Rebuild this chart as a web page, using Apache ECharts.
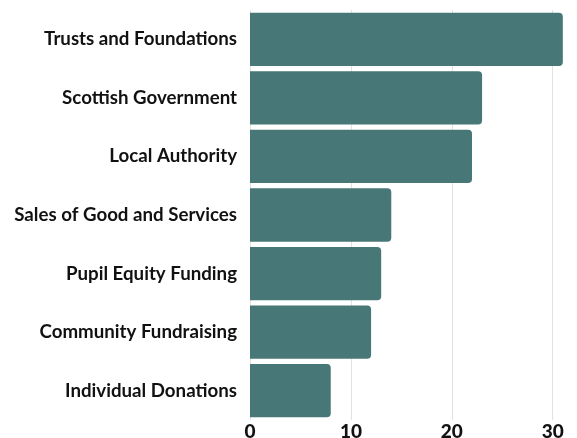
<!DOCTYPE html>
<html>
<head>
<meta charset="utf-8">
<script src="https://cdn.jsdelivr.net/npm/echarts@6/dist/echarts.min.js"></script>
<style>
  html, body { margin: 0; padding: 0; background: #fff; }
  #chart { width: 577px; height: 438px; }
</style>
</head>
<body>
<div id="chart"></div>
<script>
// Funding sources, listed top to bottom
const categories = [
  'Trusts and Foundations',
  'Scottish Government',
  'Local Authority',
  'Sales of Good and Services',
  'Pupil Equity Funding',
  'Community Fundraising',
  'Individual Donations'
];
const values = [31, 23, 22, 14, 13, 12, 8];
const xTicks = [0, 10, 20, 30];

const chart = echarts.init(document.getElementById('chart'));
chart.setOption({
  animation: false,
  grid: {
    left: 250, right: -6, top: 10, bottom: 18,
    containLabel: false,
    outerBoundsMode: 'none'
  },
  xAxis: {
    type: 'value',
    min: 0,
    max: 33,
    interval: 10,
    axisLine: { show: false },
    axisTick: { show: false },
    splitLine: { lineStyle: { color: '#e2e2e2', width: 1 } },
    axisLabel: {
      margin: 2,
      color: '#111',
      fontFamily: 'Lato',
      fontWeight: 900,
      fontSize: 19,
      formatter: v => (xTicks.includes(v) ? String(v) : '')
    }
  },
  yAxis: {
    type: 'category',
    inverse: true,
    data: categories,
    axisLine: { show: false },
    axisTick: { show: false },
    axisLabel: {
      margin: 13,
      color: '#111',
      fontFamily: 'Lato',
      fontWeight: 'bold',
      fontSize: 18.7,
      padding: [0, 0, 3, 0]
    }
  },
  series: [{
    type: 'bar',
    data: values,
    barCategoryGap: '9%',
    itemStyle: { color: '#487777', borderRadius: [0, 4, 4, 0] }
  }]
});
</script>
</body>
</html>
